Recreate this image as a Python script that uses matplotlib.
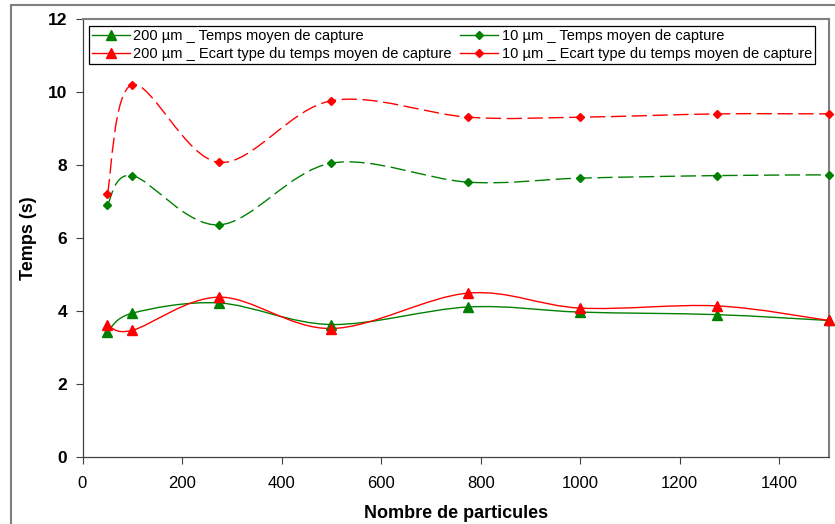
import matplotlib
matplotlib.use("Agg")
import matplotlib.pyplot as plt
import matplotlib.patches as patches
from matplotlib.path import Path
from matplotlib.lines import Line2D

plt.rcParams['font.family'] = ['Liberation Sans', 'DejaVu Sans']

# data
particules = [50, 100, 275, 500, 775, 1000, 1275, 1500]
temps_200 = [3.42, 3.94, 4.22, 3.63, 4.11, 3.97, 3.90, 3.74]
ecart_200 = [3.62, 3.47, 4.38, 3.52, 4.49, 4.08, 4.14, 3.74]
temps_10 = [6.91, 7.71, 6.36, 8.05, 7.53, 7.64, 7.71, 7.73]
ecart_10 = [7.20, 10.20, 8.07, 9.76, 9.31, 9.31, 9.40, 9.40]

labels = ['200 µm _ Temps moyen de capture',
          '200 µm _ Ecart type du temps moyen de capture',
          '10 µm _ Temps moyen de capture',
          '10 µm _ Ecart type du temps moyen de capture']

GREEN = '#008000'
RED = '#FF0000'

"""
smoothed line like excel, cubic bezier through the points
"""
def smooth_path(xs, ys):
    pts = list(zip(xs, ys))
    verts = [pts[0]]
    codes = [Path.MOVETO]
    n = len(pts)
    for i in range(n - 1):
        p0 = pts[i - 1] if i > 0 else pts[i]
        p1 = pts[i]
        p2 = pts[i + 1]
        p3 = pts[i + 2] if i + 2 < n else pts[i + 1]
        c1 = (p1[0] + (p2[0] - p0[0]) / 6.0, p1[1] + (p2[1] - p0[1]) / 6.0)
        c2 = (p2[0] - (p3[0] - p1[0]) / 6.0, p2[1] - (p3[1] - p1[1]) / 6.0)
        verts += [c1, c2, p2]
        codes += [Path.CURVE4] * 3
    return Path(verts, codes)


fig = plt.figure(figsize=(8.35, 5.24), dpi=100)
ax = fig.add_axes([82.5 / 835, 1 - 457 / 524, (829 - 82.5) / 835, (457 - 19) / 524])

# outer chart border (only left and top visible)
fig.patches.append(patches.Rectangle((11 / 835, -0.1), 1.2, 1.1 - 5 / 524, transform=fig.transFigure,
                                     fill=False, edgecolor='#808080', linewidth=1.5, clip_on=False))

series = [(temps_200, GREEN, '^', 6.5, '-'),
          (ecart_200, RED, '^', 6.5, '-'),
          (temps_10, GREEN, 'D', 4.5, '--'),
          (ecart_10, RED, 'D', 4.5, '--')]

handles = []
for (vals, col, mk, ms, ls), lab in zip(series, labels):
    pp = patches.PathPatch(smooth_path(particules, vals), fill=False, edgecolor=col, linewidth=1.0)
    if ls == '--':
        pp.set_linestyle((0, (11, 4)))
    ax.add_patch(pp)
    ax.plot(particules, vals, linestyle='none', marker=mk, markersize=ms, color=col, clip_on=False, zorder=3)
    handles.append(Line2D([], [], color=col, linewidth=1.0, marker=mk, markersize=ms))

ax.set_xlim(0, 1500)
ax.set_ylim(0, 12)
ax.set_xticks(range(0, 1401, 200))
ax.set_yticks(range(0, 13, 2))
ax.tick_params(axis='both', direction='out', length=5, width=0.8, color='#404040')
ax.tick_params(axis='x', labelsize=12, pad=9)
ax.tick_params(axis='y', labelsize=12.5, pad=6)
for t in ax.get_yticklabels():
    t.set_fontweight('bold')

for s in ['left', 'bottom']:
    ax.spines[s].set_color('#404040')
    ax.spines[s].set_linewidth(0.9)
for s in ['top', 'right']:
    ax.spines[s].set_color('#808080')
    ax.spines[s].set_linewidth(1.5)

ax.set_xlabel('Nombre de particules', fontsize=13, fontweight='bold', labelpad=10)
ax.set_ylabel('Temps (s)', fontsize=13, fontweight='bold', labelpad=8)

leg = ax.legend(handles, labels, ncol=2, loc='upper left', bbox_to_anchor=(89 / 835, 1 - 26 / 524),
                bbox_transform=fig.transFigure, fontsize=10.5, handlelength=2.6, handletextpad=0.25,
                columnspacing=0.55, borderpad=0.2, labelspacing=0.3, fancybox=False,
                edgecolor='black', framealpha=1, borderaxespad=0)
leg.get_frame().set_linewidth(0.9)

fig.savefig('out.png', dpi=100, facecolor='white')
